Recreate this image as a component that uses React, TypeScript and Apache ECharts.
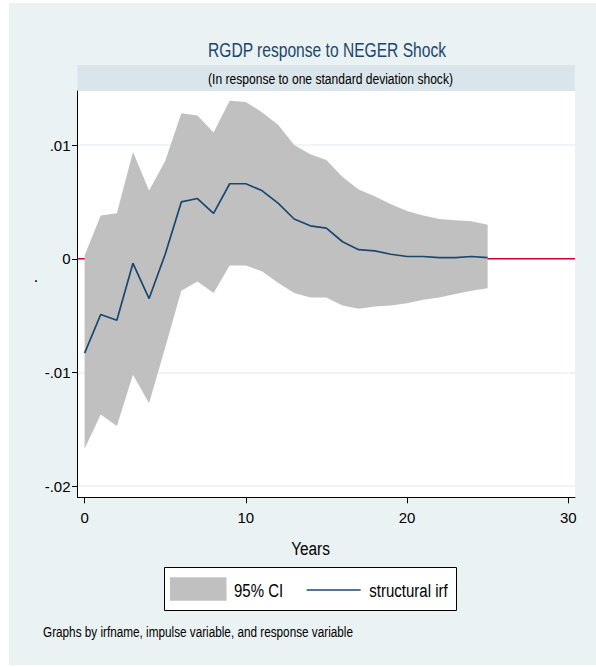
import { useEffect, useRef } from 'react';
import * as echarts from 'echarts';

const years = [0, 1, 2, 3, 4, 5, 6, 7, 8, 9, 10, 11, 12, 13, 14, 15, 16, 17, 18, 19, 20, 21, 22, 23, 24, 25];
const irf = [
  -0.0083, -0.0049, -0.0054, -0.0004, -0.0035, 0.0004, 0.005, 0.0053, 0.004, 0.0066, 0.0066, 0.006, 0.0049,
  0.0035, 0.0029, 0.0027, 0.0015, 0.0008, 0.0007, 0.0004, 0.0002, 0.0002, 0.0001, 0.0001, 0.0002, 0.0001,
];
const ciLower = [
  -0.0167, -0.0137, -0.0147, -0.0102, -0.0127, -0.0078, -0.0028, -0.002, -0.003, -0.0006, -0.0006, -0.0011,
  -0.0021, -0.003, -0.0034, -0.0034, -0.0041, -0.0044, -0.0042, -0.0041, -0.0039, -0.0036, -0.0034, -0.0031,
  -0.0028, -0.0026,
];
const ciUpper = [
  0.0003, 0.0038, 0.004, 0.0094, 0.006, 0.0086, 0.0128, 0.0126, 0.0111, 0.0139, 0.0138, 0.0129, 0.0118, 0.01,
  0.0092, 0.0087, 0.0072, 0.0061, 0.0055, 0.0048, 0.0042, 0.0038, 0.0035, 0.0034, 0.0033, 0.003,
];
const xTicks = [0, 10, 20, 30];
const yTicks = [-0.02, -0.01, 0, 0.01];

const FONT = '"Liberation Sans", Arial, sans-serif';
const NAVY = '#1a476f';
const BG = '#eaf2f3';
const CI = '#c0c0c0';
const ZERO = '#cc0033';

const fmtY = (v: number) => {
  const r = Math.round(v * 100) / 100;
  return String(r).replace('0.', '.');
};

// Stata-style narrow text: regular font squeezed horizontally
const narrowText = (text: string, x: number, y: number, size: number, sx: number, align: string, fill = '#000') => ({
  type: 'text',
  x,
  y,
  scaleX: sx,
  style: { text, x: 0, y: 0, textAlign: align, verticalAlign: 'middle', fill, font: `${size}px ${FONT}` },
});

const App = () => {
  const chartRef = useRef<HTMLDivElement>(null);

  useEffect(() => {
    document.body.style.margin = '0';
    if (!chartRef.current) return;
    const chart = echarts.init(chartRef.current, undefined, { renderer: 'svg' });

    const option: any = {
      animation: false,
      backgroundColor: '#fff',
      textStyle: { fontFamily: FONT },
      graphic: [
        { type: 'rect', z: -10, shape: { x: 9, y: 3, width: 587, height: 662 }, style: { fill: BG } },
        { type: 'rect', z: -9, shape: { x: 77.5, y: 65, width: 497.5, height: 26 }, style: { fill: '#d9e5ea' } },
        narrowText('RGDP response to NEGER Shock', 327, 50, 20, 0.78, 'center', NAVY),
        narrowText('(In response to one standard deviation shock)', 330.5, 78, 15.5, 0.78, 'center'),
        narrowText('Years', 310.5, 548, 19, 0.81, 'center'),
        narrowText('.', 36, 276, 16, 1, 'center'),
        narrowText('Graphs by irfname, impulse variable, and response variable', 43, 632, 14.5, 0.81, 'left'),
        // legend box
        {
          type: 'rect',
          shape: { x: 164.5, y: 567.5, width: 292, height: 43 },
          style: { fill: '#fff', stroke: '#000', lineWidth: 1 },
        },
        { type: 'rect', shape: { x: 170, y: 577.3, width: 56.5, height: 23.4 }, style: { fill: CI } },
        narrowText('95% CI', 234, 591, 19, 0.79, 'left'),
        {
          type: 'line',
          shape: { x1: 306.7, y1: 590, x2: 360.7, y2: 590 },
          style: { stroke: NAVY, lineWidth: 1.7 },
        },
        narrowText('structural irf', 369.3, 591, 19, 0.79, 'left'),
      ],
      grid: {
        left: 77.5,
        top: 91,
        right: 21,
        bottom: 169.7,
        show: true,
        backgroundColor: '#fff',
        borderWidth: 0,
      },
      xAxis: {
        type: 'value',
        min: -0.44,
        max: 30.42,
        axisLine: { show: true, onZero: false, lineStyle: { color: '#000', width: 1 } },
        axisTick: { show: true, length: 6, lineStyle: { color: '#000' }, customValues: xTicks },
        axisLabel: { customValues: xTicks, margin: 13, fontSize: 15, color: '#000', fontFamily: FONT },
        splitLine: { show: false },
      },
      yAxis: {
        type: 'value',
        min: -0.02098,
        max: 0.01476,
        axisLine: { show: true, onZero: false, lineStyle: { color: '#000', width: 1 } },
        axisTick: { show: true, length: 5.5, lineStyle: { color: '#000' }, customValues: yTicks },
        axisLabel: { customValues: yTicks, margin: 7, fontSize: 15, color: '#000', fontFamily: FONT, formatter: fmtY },
        splitLine: { show: true, lineStyle: { color: BG, width: 1.5 } },
      },
      series: [
        {
          name: '95% CI',
          type: 'custom',
          z: 2,
          silent: true,
          data: years.map((t, i) => [t, ciLower[i], ciUpper[i]]),
          encode: { x: 0, y: [1, 2] },
          renderItem: (params: any, api: any) => {
            if (params.dataIndex !== 0) return null;
            const cs = params.coordSys;
            const y0 = api.coord([0, 0])[1];
            const top = years.map((t, i) => api.coord([t, ciUpper[i]]));
            const bottom = years.map((t, i) => api.coord([t, ciLower[i]])).reverse();
            return {
              type: 'group',
              children: [
                // zero reference line, drawn first so the band covers it
                {
                  type: 'line',
                  shape: { x1: cs.x, y1: y0, x2: cs.x + cs.width, y2: y0 },
                  style: { stroke: ZERO, lineWidth: 1.5 },
                },
                {
                  type: 'polygon',
                  shape: { points: top.concat(bottom) },
                  style: { fill: CI },
                },
              ],
            };
          },
        },
        {
          name: 'structural irf',
          type: 'line',
          z: 3,
          symbol: 'none',
          color: NAVY,
          data: years.map((t, i) => [t, irf[i]]),
          lineStyle: { color: NAVY, width: 1.7 },
        },
      ],
    };

    chart.setOption(option);
    return () => {
      chart.dispose();
    };
  }, []);

  return <div ref={chartRef} style={{ width: 596, height: 667 }} />;
};

export default App;
